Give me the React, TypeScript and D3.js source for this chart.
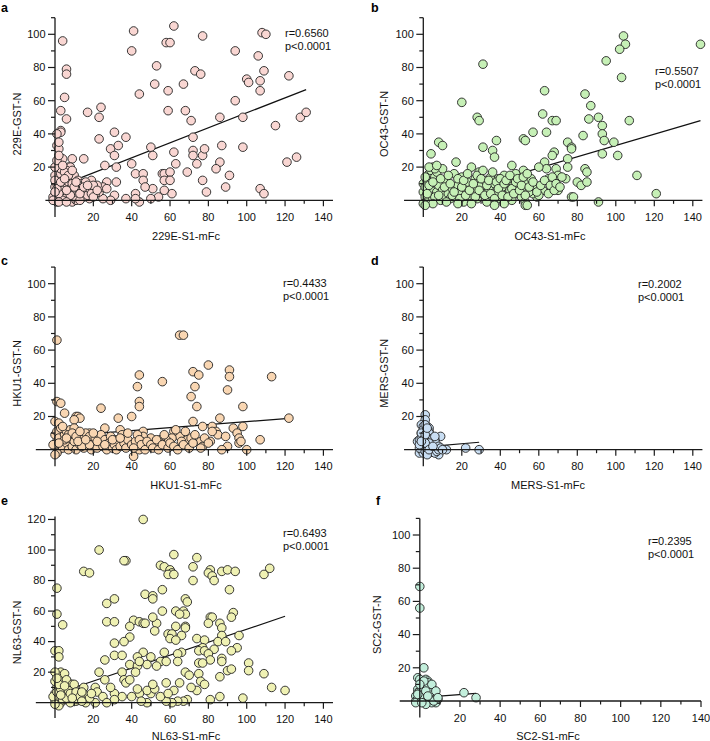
import React from 'react';
import * as d3 from 'd3';

// ---------- data ----------
const xMajorTicks = [20, 40, 60, 80, 100, 120, 140];
const xMinorTicks = [10, 30, 50, 70, 90, 110, 130];

const ptsA: number[][] = [
  [4,96],[6,79],[6,76],[5,62],[6,49],[3,54],[3,42],[3,41],[1,40],[1,33],[2,31],[2,35],[9,25],[4,25],[7,20],[8,20],[17,53],[23,50],[24,56],[23,37],[15,25],[26,21],[29,31],[31,27],[31,41],[33,33],[32,20],[37,38],[40,90],[41,102],[40,22],[44,64],[42,16],[46,16],[46,12],[50,32],[51,27],[52,70],[53,81],[56,16],[57,16],[57,12],[58,95],[60,95],[62,105],[59,66],[59,54],[60,17],[60,12],[62,29],[63,22],[67,70],[68,54],[69,17],[71,48],[72,38],[72,30],[72,27],[73,78],[76,76],[77,99],[74,22],[77,27],[78,31],[77,12],[79,5],[86,50],[87,33],[86,23],[84,19],[89,8],[91,15],[94,90],[94,60],[98,50],[98,32],[100,73],[101,71],[106,87],[107,72],[107,66],[108,101],[110,100],[109,78],[107,7],[109,4],[115,45],[122,75],[121,23],[126,26],[128,50],[131,53],
  [61,4],[57,6],[54,2],[51,7],[50,1],[47,8],[44,-1],[42,4],[42,1],[37,1],[31,3],[32,11],[29,0],[25,1],[23,5],[21,4],[18,1],[16,5],[27,11],[25,8],[27,7],[19,12],[22,9],
  [0,0],[1,1],[0,3],[2,2],[1,5],[3,0],[4,3],[2,6],[0,8],[1,10],[3,8],[5,5],[6,2],[5,9],[4,12],[2,14],[0,15],[3,16],[6,14],[7,11],[8,7],[9,4],[10,1],[8,13],[6,18],[9,10],[11,6],[12,3],[13,8],[10,15],[12,12],[14,5],[15,2],[7,0],[9,-1],[11,0],[1,-1],[-1,2],[0,12],[2,9],[4,6],[3,19],[5,17],[7,15],[9,18],[12,9],[14,10],[16,6],[17,3],[13,0],[18,7],[19,4],[20,9],[16,11],[8,3],[10,8],[11,11],[4,0],[6,6],[2,4],[1,7],[3,11],[5,13],[0,5],[13,4],[15,8],[17,9],[20,2],[22,6],[-1,0],[2,-1],[6,-1],[0,20],[1,24],[4,21],[2,27]
];
const ptsB: number[][] = [
  [144,94],[104,99],[105,94],[102,91],[95,84],[103,74],[31,82],[20,59],[63,66],[84,64],[87,57],[62,52],[28,50],[29,48],[67,48],[69,48],[86,49],[91,50],[107,48],[93,45],[93,40],[83,39],[64,41],[57,41],[52,37],[53,36],[8,35],[10,33],[31,32],[36,30],[37,26],[38,36],[94,36],[99,35],[75,35],[77,32],[77,31],[4,28],[68,29],[67,27],[93,28],[101,27],[17,23],[63,23],[75,25],[111,15],[121,4],[91,-1],[77,2],[78,2],[84,19],[85,17],[75,20],[80,11],[82,9],[85,11],[69,19],[70,15],[74,13],[70,6],[62,6],[59,2],[57,4],[64,19],[65,13],[60,20],[52,18],[46,21],
  [0,5],[1,2],[0,10],[2,12],[1,8],[3,3],[2,-1],[4,6],[5,1],[3,16],[4,18],[5,20],[6,14],[7,5],[8,9],[6,2],[9,0],[10,6],[11,3],[12,11],[13,4],[14,1],[15,7],[16,16],[17,2],[18,9],[19,5],[20,14],[21,-1],[22,7],[23,11],[24,3],[25,20],[26,6],[27,13],[28,1],[29,17],[30,9],[31,4],[32,12],[33,-1],[34,7],[35,14],[36,2],[37,10],[38,5],[39,13],[40,1],[41,8],[42,15],[43,3],[44,11],[45,6],[46,0],[47,9],[48,16],[49,4],[50,12],[51,2],[52,7],[53,-1],[54,10],[55,5],[56,13],[58,8],[60,3],
  [1,14],[2,4],[3,9],[5,11],[7,17],[8,3],[9,13],[10,19],[11,8],[13,15],[14,10],[15,3],[16,5],[18,13],[19,1],[20,8],[21,12],[22,3],[23,16],[24,6],[26,10],[27,2],[28,15],[29,6],[30,13],[31,18],[32,3],[33,9],[34,12],[35,4],[36,17],[37,1],[38,11],[39,7],[40,13],[41,3],[42,10],[43,12],[44,2],[45,15],[46,7],[47,4],[48,11],[49,13],[50,6],[51,9],[52,14],[53,3],[54,16],[55,8],[57,11],[59,5],[61,9],[63,12],[65,4],[66,9],[67,14],[68,6],[69,10],[71,8],[72,14],
  [5,-2],[12,-1],[25,-2],[37,-3],[42,-2],[53,-3],[54,-3],[18,-2],[6,19],[3,20],[7,21],[0,-2],[1,-3]
];
const ptsC: number[][] = [
  [1,66],[65,69],[67,69],[80,51],[91,48],[91,44],[113,44],[72,47],[75,45],[73,38],[71,32],[74,26],[90,36],[98,26],[122,19],[44,45],[43,38],[44,29],[44,26],[56,41],[1,29],[3,28],[5,22],[0,17],[2,16],[11,20],[12,20],[13,19],[10,18],[24,25],[33,19],[40,20],[86,19],[72,17],[26,13],[34,12],[77,14],[82,14],[84,11],[85,9],[93,13],[98,14],[95,10],[96,7],[96,4],[97,5],[107,6],[100,0],[89,8],[90,2],[87,0],[81,5],[76,5],[77,2],[69,6],[71,7],[65,8],[66,5],[62,11],[61,7],[58,6],[55,6],[55,4],[52,4],[50,7],[49,2],[46,11],[46,8],[45,5],[44,0],[41,-4],[39,4],[40,2],[36,8],[37,3],[31,6],[32,3],[29,2],[25,5],[22,8],[23,3],[18,10],[19,5],[17,2],
  [0,2],[1,5],[0,9],[2,0],[3,3],[1,11],[2,7],[4,1],[5,9],[3,13],[6,4],[7,0],[8,7],[6,11],[9,2],[10,5],[8,12],[11,0],[12,9],[13,3],[10,13],[14,6],[15,1],[16,10],[17,4],[18,8],[19,0],[20,3],[21,7],[22,1],[23,5],[24,9],[25,2],[26,6],[27,0],[28,4],[29,8],[30,1],[31,3],[32,0],[33,6],[34,2],[35,9],[36,4],[37,1],[38,6],[40,3],[42,5],[43,9],[44,6],[45,3],[47,0],[48,5],[50,3],[51,1],[53,6],[54,0],[56,3],[57,9],[59,1],[60,4],[62,2],[63,12],[64,0],[67,3],[68,11],[70,1],[72,4],[73,9],[76,1],[78,7],[80,4],[82,11],[1,-2],[-1,3],[0,-3],[4,14],[7,9],[5,6],[9,10],[11,8],[13,11],[2,4],[14,2],[6,7],[12,5],[18,3],[20,10],[16,6],[22,5],[26,3],[30,6],[34,7],[38,10],[41,1]
];
const ptsD: number[][] = [
  [1,21],[1,18],[-1,15],[0,14],[2,14],[3,13],[3,11],[-1,10],[0,10],[9,8],[2,7],[6,6],[-3,5],[-2,6],[4,4],[2,2],[12,0],[22,1],[29,0],[7,0],[8,-3],[2,-2],[-2,-2],[5,-1],
  [-1,0],[0,1],[0,-2],[1,2],[-2,1],[0,4],[1,6],[2,3],[-1,7],[0,8],[1,-1],[2,5],[3,2],[2,9],[3,7],[4,1],[3,-2],[4,5],[5,3],[5,0],[6,2],[4,8],[1,12],[2,11],[0,12],[-1,10],[1,15],[3,10],[4,-1],[6,-2],[7,1],[5,7],[6,5],[8,2],[2,-3],[3,4],[-2,3],[0,6],[1,9],[2,13],[1,4],[-1,5],[3,0],[7,-1],[8,0],[9,1],[10,0],[5,2],[6,8]
];
const ptsE: number[][] = [
  [46,120],[23,100],[37,93],[74,95],[62,97],[55,90],[57,89],[60,87],[61,85],[59,84],[62,84],[72,89],[72,80],[15,86],[18,85],[81,87],[87,86],[90,87],[94,86],[80,85],[82,83],[83,80],[109,84],[112,88],[91,74],[56,74],[36,93],[27,65],[31,68],[1,75],[1,58],[4,51],[47,71],[51,70],[51,68],[68,68],[69,66],[53,52],[56,60],[51,56],[63,60],[67,60],[68,58],[65,58],[81,56],[82,56],[80,52],[93,59],[92,56],[27,53],[31,53],[41,54],[44,53],[46,52],[47,52],[39,50],[86,52],[87,49],[87,44],[68,50],[68,49],[63,50],[52,47],[59,45],[61,45],[66,44],[96,44],[60,42],[74,42],[78,41],[63,41],[39,43],[36,40],[31,39],[85,40],[89,40],[95,36],[92,34],[77,36],[75,34],[78,34],[83,35],[80,32],[81,28],[66,33],[64,32],[87,29],[87,27],[46,33],[43,30],[57,33],[31,31],[35,31],[50,30],[26,28],[39,25],[55,27],[58,27],[48,25],[53,24],[75,26],[77,26],[101,26],[101,21],[86,17],[90,21],[92,22],[109,19],[113,10],[120,8],[98,3],[0,34],[2,34],[2,30],[2,17],[23,20],[21,10],[22,7],[26,15],[15,10],[35,20],[36,15],[37,13],[43,24],[42,20],[44,27],[39,15],[64,27],[68,20],[70,18],[75,19],[76,14],[78,12],[74,8],[71,10],[65,13],[62,8],[58,13],[69,2],[67,1],[64,1],[61,0],[58,1],[55,4],[50,6],[48,8],[52,9],[51,12],[44,6],[43,9],[40,4],[35,4],[31,6],[29,10],[31,2],[25,4],[27,0],[21,0],[16,5],[11,2],[81,2],[86,4],[59,6],[48,0],[45,1],
  [0,1],[1,3],[0,6],[2,8],[1,10],[3,12],[0,14],[2,16],[1,18],[3,20],[4,5],[5,8],[6,11],[5,2],[7,4],[6,7],[8,10],[7,13],[9,6],[10,3],[11,1],[4,16],[5,19],[6,15],[8,0],[9,12],[10,9],[12,5],[3,0],[2,-2],[0,-1],[-1,4],[1,7],[3,9],[4,2],[2,12],[6,3],[7,8],[8,6],[10,12],[11,7],[12,2],[13,4],[0,20],[1,16],[3,5],[5,11],[9,3],[14,7],[16,0],[18,3],[19,6],[14,1]
];
const ptsF: number[][] = [
  [0,69],[0,56],[2,20],[-1,14],[0,13],[3,13],[4,12],[4,11],[2,10],[2,9],[5,9],[6,8],[5,7],[-1,7],[-1,5],[3,6],[4,4],[7,5],[5,3],[-2,3],[-2,0],[1,1],[6,1],[3,-1],[8,-1],[9,1],[22,5],[28,2],
  [0,0],[1,2],[-1,1],[2,4],[0,6],[1,8],[3,3],[2,0],[4,6],[5,2],[3,9],[4,1],[6,4],[5,7],[7,2],[6,-1],[8,3],[7,6],[-2,-1],[0,3],[1,11],[2,7],[3,-2],[4,9],[5,5],[6,10],[7,0],[8,6],[9,2],[1,-1],[-1,4],[2,12],[0,10],[3,6],[4,3]
];

const fitA = [[0, 7.5], [131, 66.7]];
const fitB = [[0, -1], [144, 48]];
const fitC = [[0, 7.9], [122, 18.9]];
const fitD = [[-2, 1.4], [29, 4.5]];
const fitE = [[0, 5.7], [120, 56.6]];
const fitF = [[-2, 1.9], [28, 4.6]];

const letters = ['a', 'b', 'c', 'd', 'e', 'f'];
const xTitles = ['229E-S1-mFc', 'OC43-S1-mFc', 'HKU1-S1-mFc', 'MERS-S1-mFc', 'NL63-S1-mFc', 'SC2-S1-mFc'];
const yTitles = ['229E-GST-N', 'OC43-GST-N', 'HKU1-GST-N', 'MERS-GST-N', 'NL63-GST-N', 'SC2-GST-N'];
const rValues = ['r=0.6560', 'r=0.5507', 'r=0.4433', 'r=0.2002', 'r=0.6493', 'r=0.2395'];
const pValues = ['p<0.0001', 'p<0.0001', 'p<0.0001', 'p<0.0001', 'p<0.0001', 'p<0.0001'];
const fills = ['#f9d6d2', '#c6f0b6', '#f9d6b2', '#c9def3', '#eff1b3', '#c3efdc'];
const allPts = [ptsA, ptsB, ptsC, ptsD, ptsE, ptsF];
const fits = [fitA, fitB, fitC, fitD, fitE, fitF];
const yTopValues = [100, 100, 100, 100, 120, 100];

// ---------- layout ----------
const layout = [
  { x0: 55, x140: 323.4, y0: 200.3, yUnit: 1.66, xMin: -5, xMax: 145, yMax: 110, lx: 1, ly: 11.5, sx: 285, sy: 37.3, tx: 186, ty: 239.5, yx: 21 },
  { x0: 423.3, x140: 692.8, y0: 200.3, yUnit: 1.66, xMin: -10, xMax: 145, yMax: 110, lx: 371, ly: 11.5, sx: 655, sy: 75, tx: 550, ty: 239.5, yx: 388 },
  { x0: 55, x140: 323.4, y0: 449.7, yUnit: 1.66, xMin: -10, xMax: 145, yMax: 110, lx: 1, ly: 265, sx: 283, sy: 287, tx: 186, ty: 489, yx: 20.5 },
  { x0: 423.3, x140: 692.8, y0: 449.7, yUnit: 1.66, xMin: -10, xMax: 145, yMax: 110, lx: 371, ly: 265, sx: 638, sy: 288, tx: 548, ty: 489, yx: 388 },
  { x0: 55, x140: 323.4, y0: 702.7, yUnit: 1.527, xMin: -10, xMax: 145, yMax: 122, lx: 1, ly: 504.5, sx: 283, sy: 536.5, tx: 186, ty: 740, yx: 21 },
  { x0: 419.8, x140: 701, y0: 701, yUnit: 1.66, xMin: -10, xMax: 140, yMax: 110, lx: 376, ly: 505, sx: 648, sy: 545, tx: 548, ty: 739.5, yx: 381 },
];

const FONT = '"Liberation Sans", Arial, Helvetica, sans-serif';
const AXIS = '#1a1a1a';

function Panel({ i }: { i: number }) {
  const L = layout[i];
  const x = d3.scaleLinear().domain([0, 140]).range([L.x0, L.x140]);
  const y = d3.scaleLinear().domain([0, 100]).range([L.y0, L.y0 - 100 * L.yUnit]);
  const yTop = yTopValues[i];
  const yMajor = d3.range(20, yTop + 1, 20);
  const yMinor = d3.range(10, L.yMax + 0.1, 20).filter((v) => v <= L.yMax);
  const line = d3.line<number[]>().x((d) => x(d[0])).y((d) => y(d[1]));
  const xMaj = xMajorTicks.filter((t) => t <= L.xMax);
  const xMin = xMinorTicks.filter((t) => t <= L.xMax);
  return (
    <g>
      <path d={line(fits[i] as number[][]) || ''} fill="none" stroke="#111" strokeWidth={1.2} />
      {allPts[i].map((p, k) => (
        <circle key={k} cx={x(p[0])} cy={y(p[1])} r={4.3} fill={fills[i]} stroke="#222" strokeWidth={0.9} />
      ))}
      <line x1={x(L.xMin)} x2={x(L.xMax)} y1={y(0)} y2={y(0)} stroke={AXIS} strokeWidth={1.3} />
      {xMaj.map((t) => (
        <g key={'xm' + t}>
          <line x1={x(t)} x2={x(t)} y1={y(0)} y2={y(0) + 6} stroke={AXIS} strokeWidth={1.2} />
          <text x={x(t)} y={y(0) + 20.5} textAnchor="middle" fontSize={11} fontFamily={FONT} fill="#111">{t}</text>
        </g>
      ))}
      {xMin.map((t) => (
        <line key={'xn' + t} x1={x(t)} x2={x(t)} y1={y(0)} y2={y(0) + 3.5} stroke={AXIS} strokeWidth={1.2} />
      ))}
      <line x1={x(0)} x2={x(0)} y1={y(-10)} y2={y(L.yMax)} stroke={AXIS} strokeWidth={1.3} />
      {yMajor.map((t) => (
        <g key={'ym' + t}>
          <line x1={x(0) - 7} x2={x(0)} y1={y(t)} y2={y(t)} stroke={AXIS} strokeWidth={1.2} />
          <text x={x(0) - 9.5} y={y(t)} dy="0.35em" textAnchor="end" fontSize={11} fontFamily={FONT} fill="#111">{t}</text>
        </g>
      ))}
      {yMinor.map((t) => (
        <line key={'yn' + t} x1={x(0) - 4} x2={x(0)} y1={y(t)} y2={y(t)} stroke={AXIS} strokeWidth={1.2} />
      ))}
      <text x={L.tx} y={L.ty} textAnchor="middle" fontSize={11} fontFamily={FONT} fill="#111">{xTitles[i]}</text>
      <text transform={`translate(${L.yx},${y(46)}) rotate(-90)`} textAnchor="middle" fontSize={11} fontFamily={FONT} fill="#111">{yTitles[i]}</text>
      <text x={L.sx} y={L.sy} fontSize={11} fontFamily={FONT} fill="#111">{rValues[i]}</text>
      <text x={L.sx} y={L.sy + 13} fontSize={11} fontFamily={FONT} fill="#111">{pValues[i]}</text>
      <text x={L.lx} y={L.ly} fontSize={12.5} fontWeight="bold" fontFamily={FONT} fill="#000">{letters[i]}</text>
    </g>
  );
}

export default function App() {
  return (
    <div>
      <style>{`body{margin:0;background:#fff}`}</style>
      <svg width={710} height={741} style={{ display: 'block' }}>
        <rect width={710} height={741} fill="#fff" />
        {letters.map((_, i) => <Panel key={i} i={i} />)}
      </svg>
    </div>
  );
}
